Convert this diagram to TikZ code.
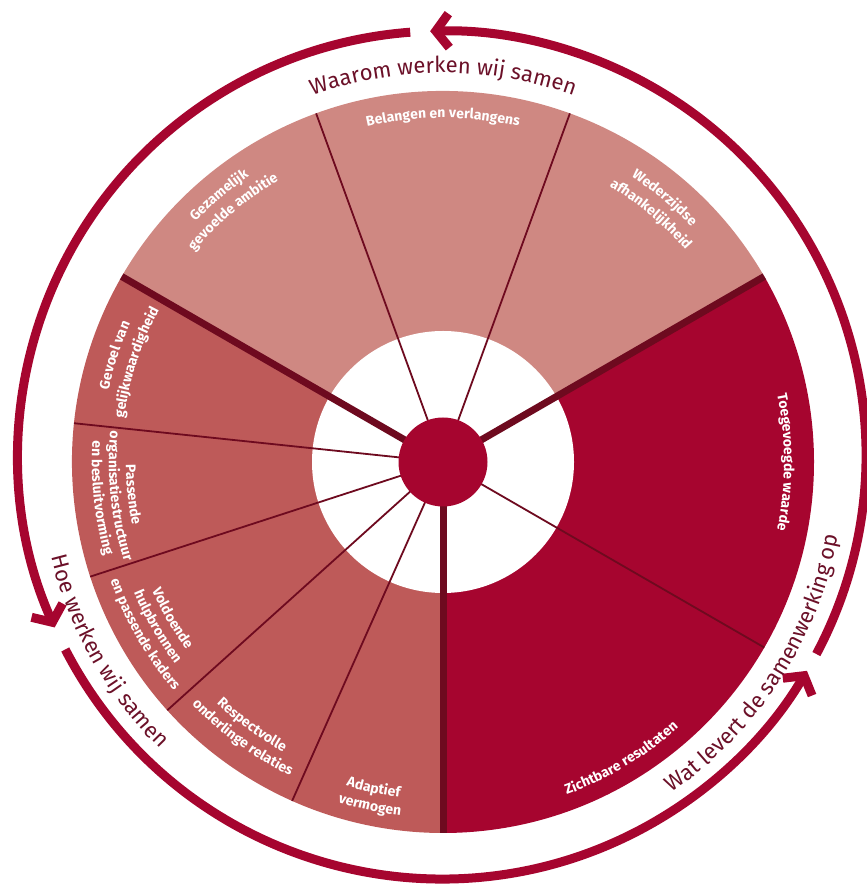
\documentclass[tikz,border=0pt]{standalone}
\usepackage{fontspec}
\setmainfont{Fira Sans}
\usetikzlibrary{arrows.meta,decorations.text,calc}
\definecolor{pale}{HTML}{CF8882}
\definecolor{medred}{HTML}{BE5A59}
\definecolor{crim}{HTML}{A6052F}
\definecolor{darkm}{HTML}{6E0A1F}
\definecolor{ringtxt}{HTML}{6B1028}
\def\lbl{\bfseries\fontsize{14}{16}\selectfont}
\def\rng{\fontsize{22}{26}\selectfont}
% angle, baseline radius, colour, format, text
\newcommand\cwlabel[5]{%
  \path[decorate,decoration={text along path,text align=center,text color=#3,text={|#4|#5}}]
    ($(D)+(#1+70:#2pt)$) arc[start angle=#1+70, end angle=#1-70, radius=#2pt];}
\newcommand\ccwlabel[5]{%
  \path[decorate,decoration={text along path,text align=center,text color=#3,text={|#4|#5}}]
    ($(D)+(#1-70:#2pt)$) arc[start angle=#1-70, end angle=#1+70, radius=#2pt];}
\tikzset{
  thinsep/.style={darkm, line width=1.8pt},
  thicksep/.style={darkm, line width=7pt},
  ringarrow/.style={crim, line width=9pt, -{Straight Barb[length=13pt,width=34pt]}}
}
\begin{document}
\begin{tikzpicture}[x=1pt,y=1pt]
\useasboundingbox (0,0) rectangle (867,889);
\coordinate (D) at (443,427);
\coordinate (C) at (442,434);
% sectors
\fill[pale] (D) -- ($(D)+(30:371pt)$) arc[start angle=30,end angle=150,radius=371pt] -- cycle;
\fill[medred] (D) -- ($(D)+(150:371pt)$) arc[start angle=150,end angle=270,radius=371pt] -- cycle;
\fill[crim] (D) -- ($(D)+(270:371pt)$) arc[start angle=270,end angle=390,radius=371pt] -- cycle;
\fill[white] (D) circle[radius=131pt];
% separators
\foreach \a in {70,110,174,198,222,246,-30} \draw[thinsep] (D) -- ($(D)+(\a:371pt)$);
\foreach \a in {30,150,270} \draw[thicksep] (D) -- ($(D)+(\a:371pt)$);
\fill[crim] (D) circle[radius=44.5pt];
% outer ring arrows
\draw[ringarrow] ($(C)+(-28:424pt)$) arc[start angle=-28,end angle=91.6,radius=424pt];
\draw[ringarrow] ($(C)+(94.3:424pt)$) arc[start angle=94.3,end angle=204,radius=424pt];
\draw[ringarrow] ($(C)+(207.3:424pt)$) arc[start angle=207.3,end angle=329.4,radius=424pt];
% ring texts
\cwlabel{90}{389}{ringtxt}{\rng}{Waarom werken wij samen}
\ccwlabel{209.5}{403}{ringtxt}{\rng}{Hoe werken wij samen}
\ccwlabel{-33}{402}{ringtxt}{\rng}{Wat levert de samenwerking op}
% segment labels
\cwlabel{90}{344}{white}{\lbl}{Belangen en verlangens}
\cwlabel{130}{345}{white}{\lbl}{Gezamelijk}
\cwlabel{130}{326}{white}{\lbl}{gevoelde ambitie}
\cwlabel{50}{342}{white}{\lbl}{Wederzijdse}
\cwlabel{50}{322}{white}{\lbl}{afhankelijkheid}
\cwlabel{0}{341}{white}{\lbl}{Toegevoegde waarde}
\cwlabel{162}{342}{white}{\lbl}{Gevoel van}
\cwlabel{162}{322}{white}{\lbl}{gelijkwaardigheid}
\ccwlabel{-59}{355}{white}{\lbl}{Zichtbare resultaten}
\ccwlabel{258}{338}{white}{\lbl}{Adaptief}
\ccwlabel{258}{356}{white}{\lbl}{vermogen}
\ccwlabel{234}{331}{white}{\lbl}{Respectvolle}
\ccwlabel{234}{349}{white}{\lbl}{onderlinge relaties}
\ccwlabel{210}{318}{white}{\lbl}{Voldoende}
\ccwlabel{210}{335.5}{white}{\lbl}{hulpbronnen}
\ccwlabel{210}{353}{white}{\lbl}{en passende kaders}
\ccwlabel{186}{317}{white}{\lbl}{Passende}
\ccwlabel{186}{334}{white}{\lbl}{organisatiestructuur}
\ccwlabel{186}{351}{white}{\lbl}{en besluitvorming}
\end{tikzpicture}
\end{document}
